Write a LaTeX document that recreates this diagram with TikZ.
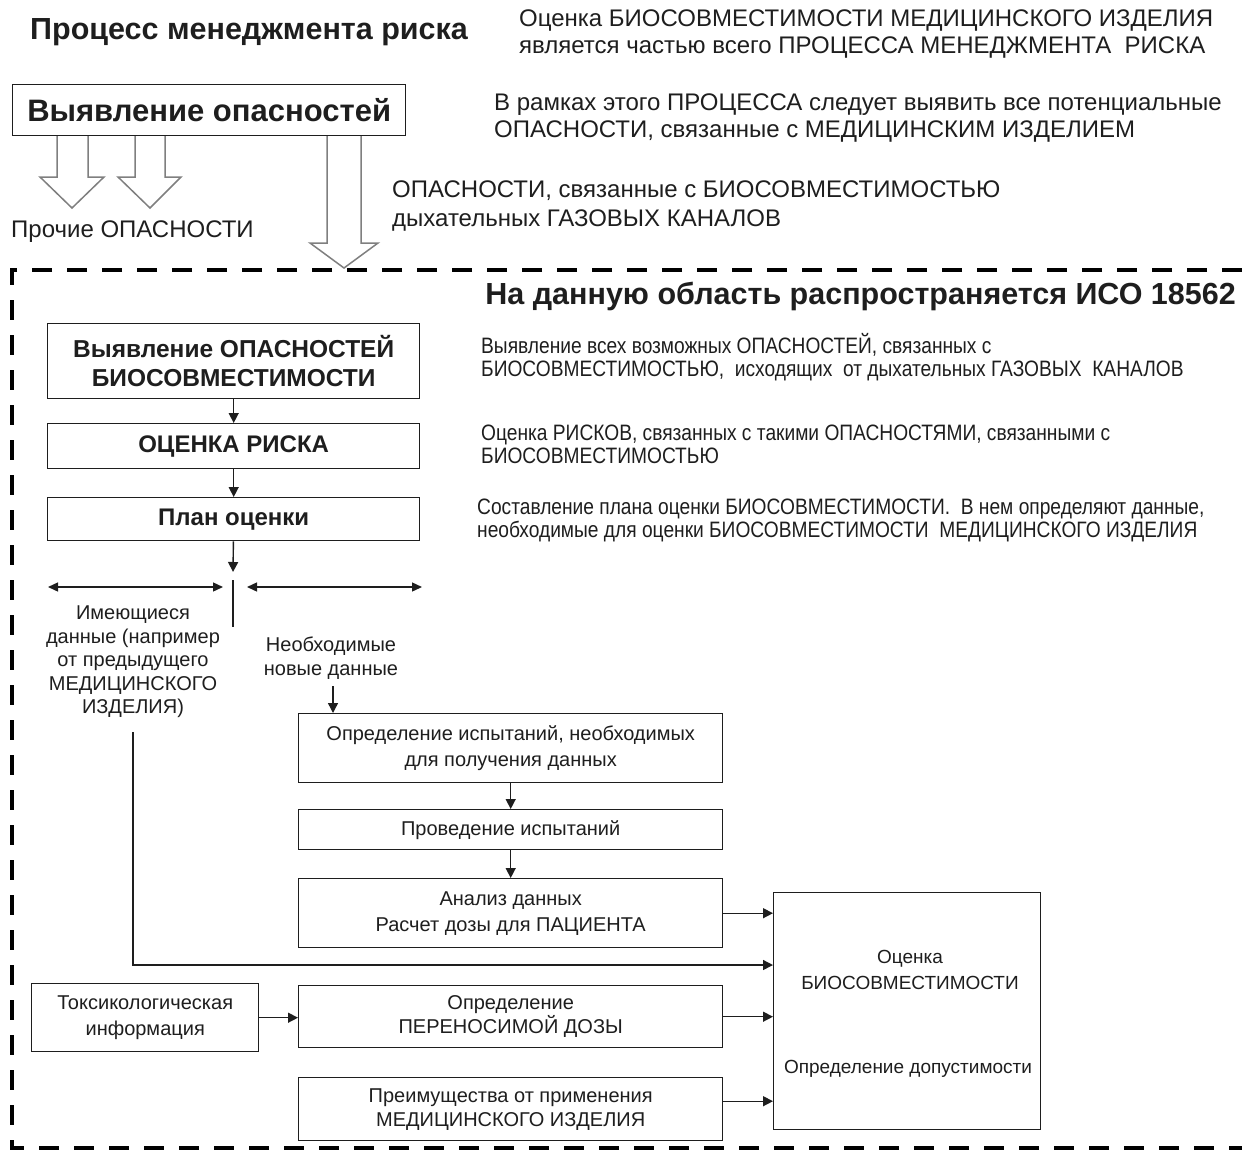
\documentclass[tikz,border=0pt]{standalone}
\usepackage{fontspec}
\setmainfont{Liberation Sans}
\newfontfamily\condfont[FakeStretch=0.86]{Liberation Sans}
\usetikzlibrary{arrows.meta,calc}
\definecolor{txt}{HTML}{1E1E1E}
\definecolor{blk}{HTML}{7F7F7F}
\begin{document}
\begin{tikzpicture}[x=1pt,y=-1pt,
  every node/.style={text=txt,inner sep=0pt},
  box/.style={draw=txt,line width=1.4pt,fill=white,align=center,anchor=north west},
  bb/.style={font=\bfseries\fontsize{24.5}{29}\selectfont},
  nt/.style={font=\fontsize{20}{26}\selectfont},
  lbl/.style={align=center,font=\fontsize{20}{23.5}\selectfont},
  big/.style={align=left,anchor=west,font=\fontsize{24}{27}\selectfont},
  small/.style={align=left,anchor=west,font=\condfont\fontsize{22.3}{23}\selectfont},
  arr/.style={draw=txt,line width=1.4pt,-{Triangle[length=10pt,width=10pt]}},
  dbl/.style={draw=txt,line width=1.4pt,{Triangle[length=10pt,width=9pt]}-{Triangle[length=10pt,width=9pt]}},
  blockarrow/.style={draw=blk,line width=1.5pt,fill=white,line join=miter},
  border/.style={draw=black,line width=4.5pt,dash pattern=on 20pt off 15pt}]
\useasboundingbox (0,0) rectangle (1242,1151);

% header texts
\node[anchor=west,font=\bfseries\fontsize{30.5}{34}\selectfont] (title) at (30,32) {Процесс менеджмента риска};
\node[big] (t1) at (519,34) {Оценка БИОСОВМЕСТИМОСТИ МЕДИЦИНСКОГО ИЗДЕЛИЯ\\является частью всего ПРОЦЕССА МЕНЕДЖМЕНТА\ \ РИСКА};
\node[big] (t2) at (494,118) {В рамках этого ПРОЦЕССА следует выявить все потенциальные\\ОПАСНОСТИ, связанные с МЕДИЦИНСКИМ ИЗДЕЛИЕМ};
\node[big,font=\fontsize{24}{29}\selectfont] (t3) at (392,206) {ОПАСНОСТИ, связанные с БИОСОВМЕСТИМОСТЬЮ\\дыхательных ГАЗОВЫХ КАНАЛОВ};
\node[anchor=west,font=\fontsize{24}{27}\selectfont] (other) at (11,232) {Прочие ОПАСНОСТИ};

% block arrows
\draw[blockarrow] (57,135) -- (57,177) -- (40,177) -- (72,208) -- (104,177) -- (88,177) -- (88,135);
\draw[blockarrow] (135,135) -- (135,177) -- (118,177) -- (150,208) -- (181,177) -- (165,177) -- (165,135);
\draw[blockarrow] (327,135) -- (327,243) -- (310,243) -- (344,268) -- (378,243) -- (361,243) -- (361,135);

\node[box,minimum width=393pt,minimum height=51pt,font=\bfseries\fontsize{31}{34}\selectfont] (hz) at (12,84) {Выявление опасностей};

% dashed scope border
\draw[border] (1242,270) -- (12,270) -- (12,1148) -- (1242,1148);
\node[anchor=east,font=\bfseries\fontsize{30.5}{34}\selectfont] (iso) at (1236,296) {На данную область распространяется ИСО 18562};

% right explanatory texts
\node[small] (s1) at (481,357) {Выявление всех возможных ОПАСНОСТЕЙ, связанных с\\БИОСОВМЕСТИМОСТЬЮ,\ \ исходящих\ \ от дыхательных ГАЗОВЫХ\ \ КАНАЛОВ};
\node[small] (s2) at (481,444) {Оценка РИСКОВ, связанных с такими ОПАСНОСТЯМИ, связанными с\\БИОСОВМЕСТИМОСТЬЮ};
\node[small] (s3) at (477,520) {Составление плана оценки БИОСОВМЕСТИМОСТИ.\ \ В нем определяют данные,\\необходимые для оценки БИОСОВМЕСТИМОСТИ\ \ МЕДИЦИНСКОГО ИЗДЕЛИЯ};

% left flow
\node[box,bb,minimum width=372pt,minimum height=75pt] (A) at (47,323) {Выявление ОПАСНОСТЕЙ\\БИОСОВМЕСТИМОСТИ};
\node[box,bb,minimum width=372pt,minimum height=45pt,font=\bfseries\fontsize{24}{29}\selectfont] (B) at (47,423) {ОЦЕНКА РИСКА};
\node[box,bb,minimum width=372pt,minimum height=43pt,font=\bfseries\fontsize{24}{29}\selectfont] (C) at (47,497) {План оценки};
\draw[arr] (A) -- (B);
\draw[arr] (B) -- (C);
\coordinate (split) at (233,572);
\draw[arr] (C) -- (split);
\coordinate (vt) at (233,580);
\coordinate (vb) at (233,627);
\draw[draw=txt,line width=1.4pt] (vt) -- (vb);
\coordinate (l1) at (48,587);
\coordinate (l2) at (223,587);
\coordinate (r1) at (247,587);
\coordinate (r2) at (422,587);
\draw[dbl] (l1) -- (l2);
\draw[dbl] (r1) -- (r2);

\node[lbl] (im) at (133,662) {Имеющиеся\\данные (например\\от предыдущего\\МЕДИЦИНСКОГО\\ИЗДЕЛИЯ)};
\node[lbl] (nn) at (331,658) {Необходимые\\новые данные};

\node[box,nt,minimum width=424pt,minimum height=69pt] (D) at (298,713) {Определение испытаний, необходимых\\для получения данных};
\node[box,nt,minimum width=424pt,minimum height=40pt] (E) at (298,809) {Проведение испытаний};
\node[box,nt,minimum width=424pt,minimum height=69pt] (F) at (298,878) {Анализ данных\\Расчет дозы для ПАЦИЕНТА};
\node[box,minimum width=267pt,minimum height=237pt] (G) at (773,892) {};
\node[lbl,font=\fontsize{19}{26}\selectfont] (g1) at (910,970) {Оценка\\БИОСОВМЕСТИМОСТИ};
\node[lbl,font=\fontsize{19}{26}\selectfont] (g2) at (908,1069) {Определение допустимости};
\node[box,nt,minimum width=227pt,minimum height=68pt] (H) at (31,983) {Токсикологическая\\информация};
\node[box,nt,minimum width=424pt,minimum height=62pt,font=\fontsize{20}{24}\selectfont] (I) at (298,985) {Определение\\ПЕРЕНОСИМОЙ ДОЗЫ};
\node[box,nt,minimum width=424pt,minimum height=63pt,font=\fontsize{20}{24}\selectfont] (J) at (298,1077) {Преимущества от применения\\МЕДИЦИНСКОГО ИЗДЕЛИЯ};

\coordinate (nnb) at (333,686);
\draw[arr] (nnb) -- (nnb |- D.north);
\draw[arr] (D) -- (E);
\draw[arr] (E) -- (F);
\draw[arr] (F.east) -- (F.east -| G.west);
\coordinate (imb) at (133,732);
\draw[arr] (imb) |- ([yshift=-73pt]G.north west);
\draw[arr] (H.east) -- (H.east -| I.west);
\draw[arr] (I.east) -- (I.east -| G.west);
\draw[arr] ([yshift=8pt]J.east) -- ([yshift=8pt]J.east -| G.west);
\end{tikzpicture}
\end{document}
